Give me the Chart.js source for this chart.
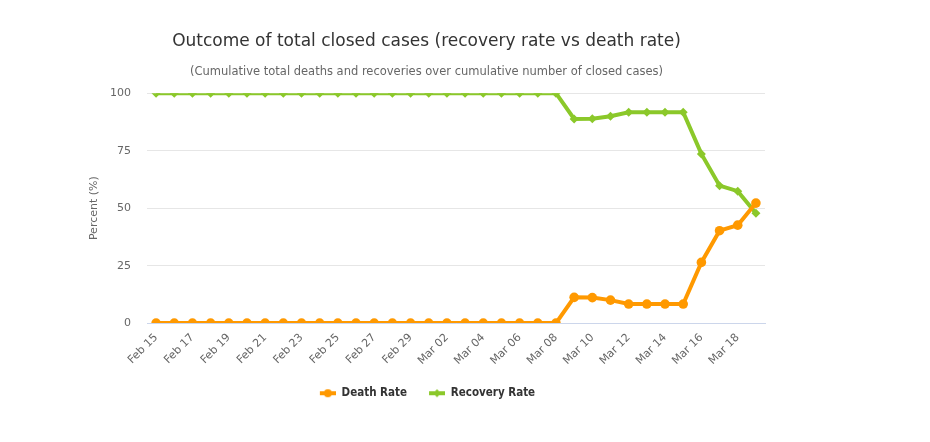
<!DOCTYPE html>
<html>
<head>
<meta charset="utf-8">
<script src="https://cdn.jsdelivr.net/npm/chart.js@4"></script>
<style>
    html, body { margin: 0; padding: 0; background: #fff; }
    #wrap { width: 850px; height: 442px; }
</style>
</head>
<body>
<div id="wrap"><canvas id="closedCasesChart"></canvas></div>
<script>
// Days (Feb 15 - Mar 19)
const dayLabels = [
    'Feb 15', 'Feb 16', 'Feb 17', 'Feb 18', 'Feb 19', 'Feb 20', 'Feb 21', 'Feb 22',
    'Feb 23', 'Feb 24', 'Feb 25', 'Feb 26', 'Feb 27', 'Feb 28', 'Feb 29',
    'Mar 01', 'Mar 02', 'Mar 03', 'Mar 04', 'Mar 05', 'Mar 06', 'Mar 07', 'Mar 08',
    'Mar 09', 'Mar 10', 'Mar 11', 'Mar 12', 'Mar 13', 'Mar 14', 'Mar 15', 'Mar 16',
    'Mar 17', 'Mar 18', 'Mar 19'
];

const deathRate = [
    0, 0, 0, 0, 0, 0, 0, 0, 0, 0, 0, 0, 0, 0, 0, 0, 0, 0, 0, 0, 0, 0, 0,
    11.2, 11.1, 10.0, 8.3, 8.3, 8.3, 8.3, 26.4, 40.2, 42.6, 52.2
];

const recoveryRate = [
    100, 100, 100, 100, 100, 100, 100, 100, 100, 100, 100, 100, 100, 100, 100, 100,
    100, 100, 100, 100, 100, 100, 100,
    88.8, 88.9, 90.0, 91.7, 91.7, 91.7, 91.7, 73.6, 59.8, 57.4, 47.8
];

const yTicks = [0, 25, 50, 75, 100];

const FONT = '"DejaVu Sans", Verdana, sans-serif';
const ORANGE = '#ff9900';
const GREEN = '#8bc82a';

// legend symbol: short line with the series marker in the middle
function legendSymbol(color, shape) {
    const c = document.createElement('canvas');
    c.width = 18;
    c.height = 10;
    const ctx = c.getContext('2d');
    ctx.strokeStyle = color;
    ctx.lineWidth = 4;
    ctx.beginPath();
    ctx.moveTo(2, 5);
    ctx.lineTo(18, 5);
    ctx.stroke();
    ctx.fillStyle = color;
    ctx.beginPath();
    if (shape === 'diamond') {
        ctx.moveTo(10, 1); ctx.lineTo(14, 5); ctx.lineTo(10, 9); ctx.lineTo(6, 5);
    } else {
        ctx.arc(10, 5, 4, 0, Math.PI * 2);
    }
    ctx.fill();
    return c;
}

const symbols = [legendSymbol(ORANGE, 'circle'), legendSymbol(GREEN, 'diamond')];

new Chart(document.getElementById('closedCasesChart'), {
    type: 'line',
    data: {
        labels: dayLabels,
        datasets: [{
            label: 'Death Rate',
            data: deathRate,
            borderColor: ORANGE,
            backgroundColor: ORANGE,
            borderWidth: 4,
            pointStyle: 'circle',
            pointRadius: 4.8,
            pointBorderWidth: 0,
            pointHoverRadius: 5,
            tension: 0
        }, {
            label: 'Recovery Rate',
            data: recoveryRate,
            borderColor: GREEN,
            backgroundColor: GREEN,
            borderWidth: 4,
            pointStyle: 'rectRot',
            pointRadius: 4.5,
            pointBorderWidth: 0,
            pointHoverRadius: 5,
            tension: 0
        }]
    },
    options: {
        responsive: true,
        maintainAspectRatio: false,
        animation: false,
        layout: { padding: { left: 88, right: 85, bottom: 33 } },
        plugins: {
            title: {
                display: true,
                text: 'Outcome of total closed cases (recovery rate vs death rate)',
                color: '#333333',
                font: { family: FONT, size: 17, weight: 'normal', lineHeight: 1.2 },
                padding: { top: 31, bottom: 14 }
            },
            subtitle: {
                display: true,
                text: '(Cumulative total deaths and recoveries over cumulative number of closed cases)',
                color: '#666666',
                font: { family: FONT, size: 11.5, weight: 'normal', lineHeight: 1.2 },
                padding: { top: 0, bottom: 14 }
            },
            legend: {
                position: 'bottom',
                labels: {
                    color: '#333333',
                    font: { family: '"DejaVu Sans Condensed", "DejaVu Sans", sans-serif', size: 11.5, weight: 'bold' },
                    usePointStyle: true,
                    pointStyleWidth: 18,
                    padding: 20,
                    generateLabels(chart) {
                        const items = Chart.defaults.plugins.legend.labels.generateLabels(chart);
                        items.forEach((item, i) => { item.pointStyle = symbols[i]; });
                        return items;
                    }
                }
            },
            tooltip: { enabled: false }
        },
        scales: {
            x: {
                offset: true,
                grid: { display: false },
                border: { color: '#ccd6eb', width: 1 },
                ticks: {
                    autoSkip: false,
                    minRotation: 45,
                    maxRotation: 45,
                    padding: 0,
                    color: '#666666',
                    font: { family: FONT, size: 11 },
                    callback: function(value, index) {
                        return index % 2 === 0 ? dayLabels[index] : '';
                    }
                }
            },
            y: {
                min: 0,
                max: 100,
                afterBuildTicks: function(scale) {
                    scale.ticks = yTicks.map(v => ({ value: v }));
                },
                afterFit: function(scale) {
                    scale.width = 59;
                },
                grid: { color: '#e6e6e6', drawTicks: false },
                border: { display: false },
                ticks: {
                    padding: 16,
                    color: '#666666',
                    font: { family: FONT, size: 11 }
                },
                title: {
                    display: true,
                    text: 'Percent (%)',
                    color: '#666666',
                    font: { family: FONT, size: 11 },
                    padding: 0
                }
            }
        }
    }
});
</script>
</body>
</html>
